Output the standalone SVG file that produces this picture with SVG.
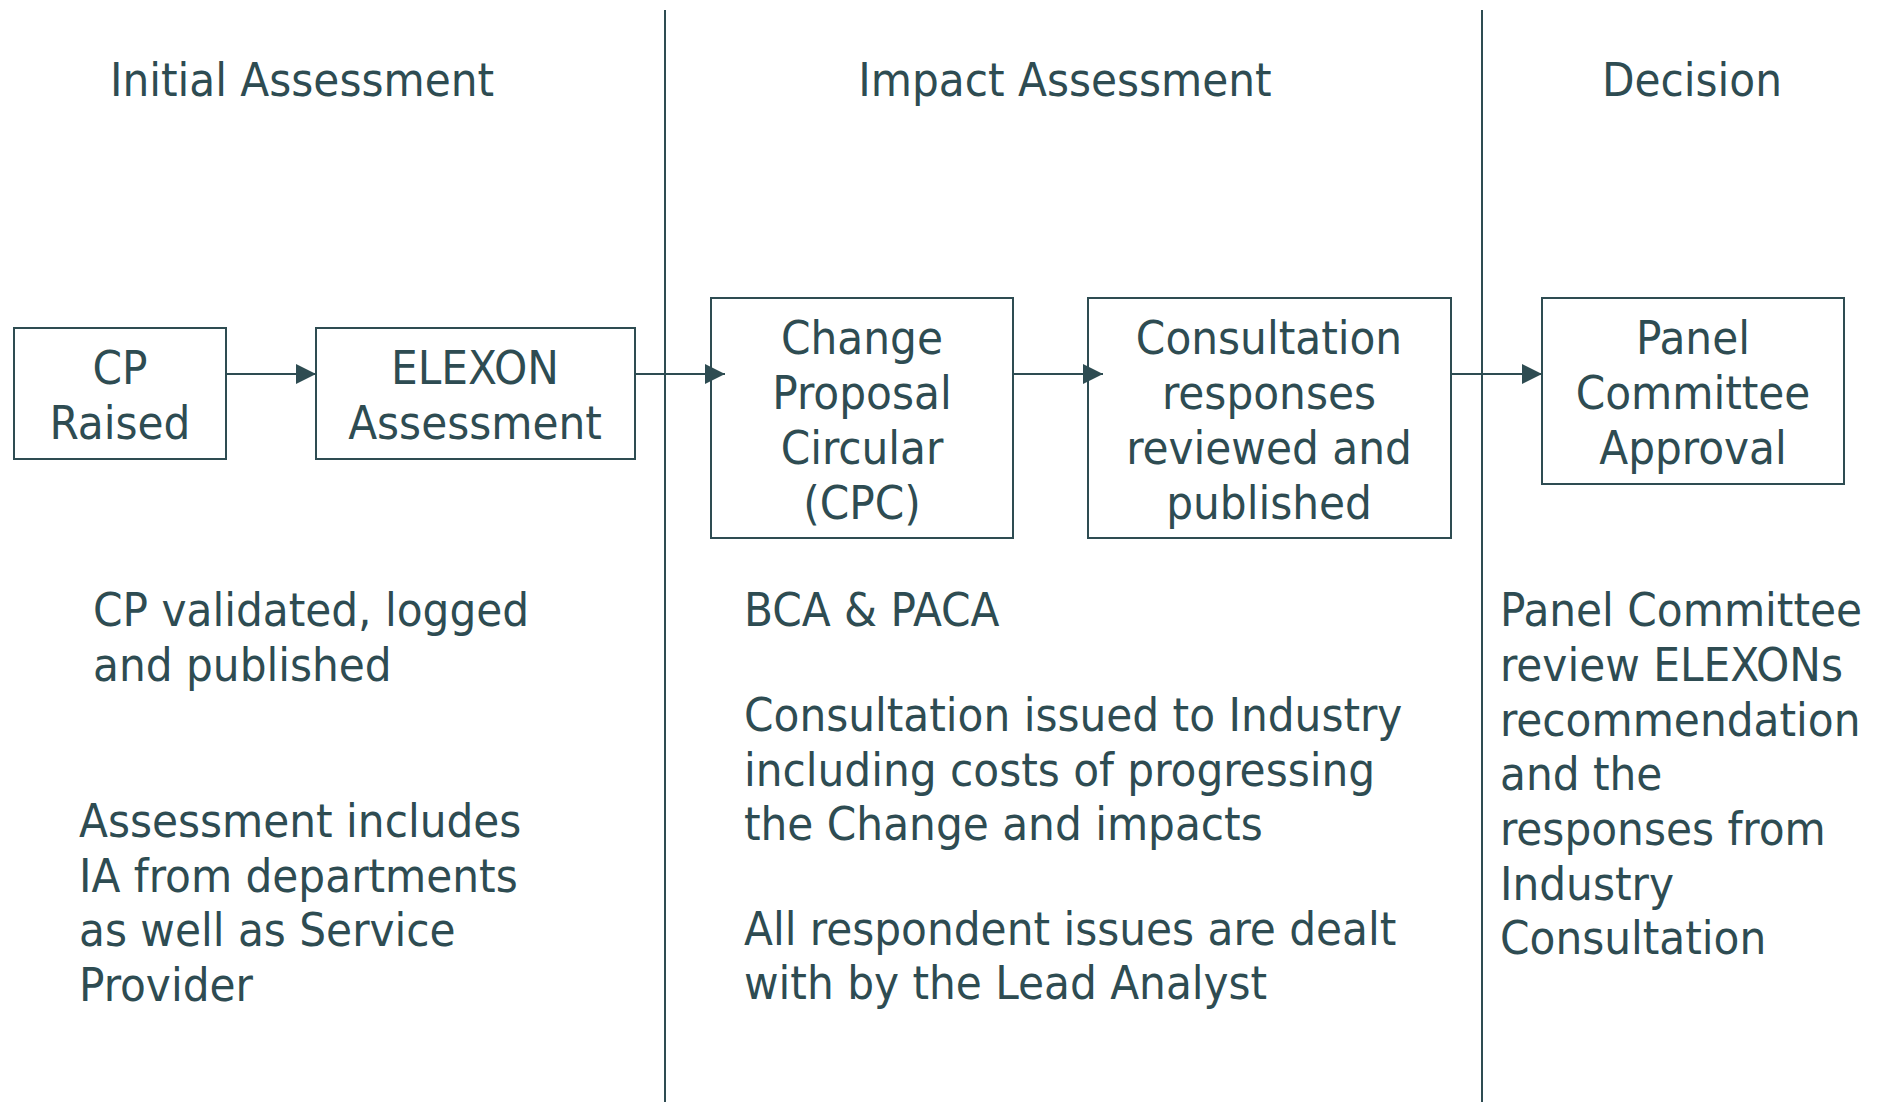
<svg xmlns="http://www.w3.org/2000/svg" width="1879" height="1102" viewBox="0 0 1879 1102">
<style>
text{font-family:"DejaVu Sans Condensed","DejaVu Sans",sans-serif;font-stretch:condensed;font-size:47px;fill:#2E4C52}
.c{text-anchor:middle}
.box{fill:#fff;stroke:#2E4C52;stroke-width:2}
.ln{stroke:#2E4C52;stroke-width:2;fill:none}
</style>
<defs>
<marker id="ah" markerWidth="22" markerHeight="22" refX="20" refY="10" orient="auto" markerUnits="userSpaceOnUse">
<path d="M0,0 L20,10 L0,20 Z" fill="#2E4C52"/>
</marker>
</defs>
<rect width="1879" height="1102" fill="#fff"/>
<g id="dividers">
<line class="ln" x1="665" y1="10" x2="665" y2="1102"/>
<line class="ln" x1="1482" y1="10" x2="1482" y2="1102"/>
</g>
<g id="headers">
<text class="c" x="302" y="96">Initial Assessment</text>
<text class="c" x="1065" y="96">Impact Assessment</text>
<text class="c" x="1692" y="96">Decision</text>
</g>
<g id="cp-raised">
<rect class="box" x="14" y="328" width="212" height="131"/>
<text class="c" x="120" y="384">CP</text>
<text class="c" x="120" y="439">Raised</text>
</g>
<g id="elexon-assessment">
<rect class="box" x="316" y="328" width="319" height="131"/>
<text class="c" x="475" y="384">ELEXON</text>
<text class="c" x="475" y="439">Assessment</text>
</g>
<g id="cpc">
<rect class="box" x="711" y="298" width="302" height="240"/>
<text class="c" x="862" y="354">Change</text>
<text class="c" x="862" y="409">Proposal</text>
<text class="c" x="862" y="464">Circular</text>
<text class="c" x="862" y="519">(CPC)</text>
</g>
<g id="consultation">
<rect class="box" x="1088" y="298" width="363" height="240"/>
<text class="c" x="1269" y="354">Consultation</text>
<text class="c" x="1269" y="409">responses</text>
<text class="c" x="1269" y="464">reviewed and</text>
<text class="c" x="1269" y="519">published</text>
</g>
<g id="panel-approval">
<rect class="box" x="1542" y="298" width="302" height="186"/>
<text class="c" x="1693" y="354">Panel</text>
<text class="c" x="1693" y="409">Committee</text>
<text class="c" x="1693" y="464">Approval</text>
</g>
<g id="connectors">
<line class="ln" x1="226" y1="374" x2="316" y2="374" marker-end="url(#ah)"/>
<line class="ln" x1="635" y1="374" x2="725" y2="374" marker-end="url(#ah)"/>
<line class="ln" x1="1013" y1="374" x2="1103" y2="374" marker-end="url(#ah)"/>
<line class="ln" x1="1451" y1="374" x2="1542" y2="374" marker-end="url(#ah)"/>
</g>
<g id="notes-initial">
<text x="93" y="626">CP validated, logged</text>
<text x="93" y="681">and published</text>
<text x="79" y="837">Assessment includes</text>
<text x="79" y="892">IA from departments</text>
<text x="79" y="946">as well as Service</text>
<text x="79" y="1001">Provider</text>
</g>
<g id="notes-impact">
<text x="744" y="626">BCA &amp; PACA</text>
<text x="744" y="731">Consultation issued to Industry</text>
<text x="744" y="786">including costs of progressing</text>
<text x="744" y="840">the Change and impacts</text>
<text x="744" y="945">All respondent issues are dealt</text>
<text x="744" y="999">with by the Lead Analyst</text>
</g>
<g id="notes-decision">
<text x="1500" y="626">Panel Committee</text>
<text x="1500" y="681">review ELEXONs</text>
<text x="1500" y="736">recommendation</text>
<text x="1500" y="790">and the</text>
<text x="1500" y="845">responses from</text>
<text x="1500" y="900">Industry</text>
<text x="1500" y="954">Consultation</text>
</g>
</svg>
